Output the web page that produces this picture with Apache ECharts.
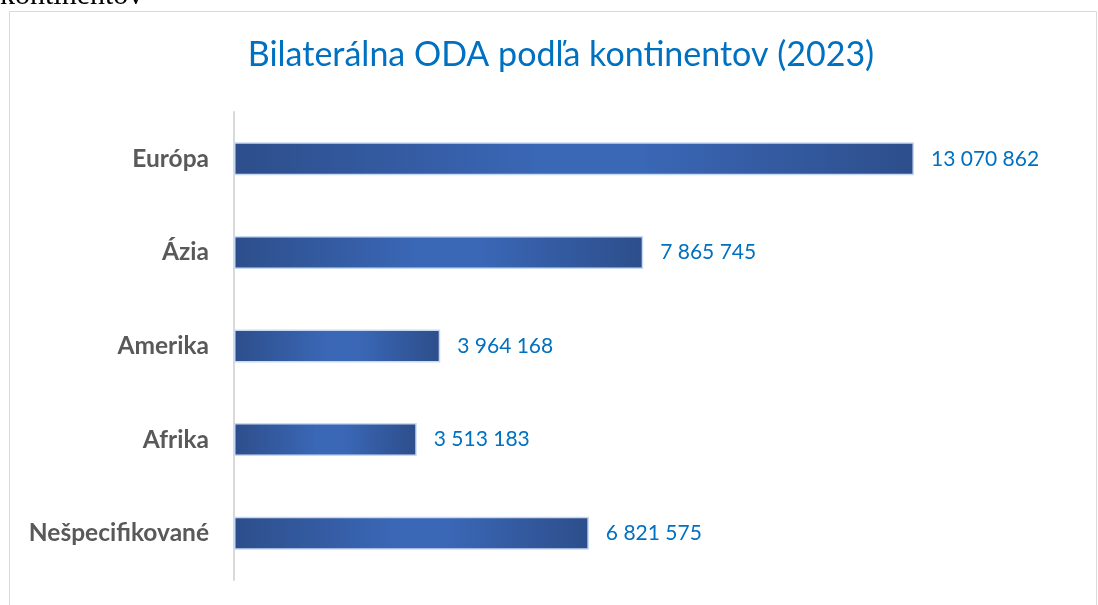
<!DOCTYPE html>
<html>
<head>
<meta charset="utf-8">
<script src="https://cdn.jsdelivr.net/npm/echarts@6/dist/echarts.min.js"></script>
<style>
html,body{margin:0;padding:0;background:#fff;}
#chart{width:1098px;height:605px;}
</style>
</head>
<body>
<div id="chart"></div>
<script>
const titleText = 'Bilaterálna ODA podľa kontinentov (2023)';
const categories = ['Európa', 'Ázia', 'Amerika', 'Afrika', 'Nešpecifikované'];
const values = [13070862, 7865745, 3964168, 3513183, 6821575];

function fmt(v){ return String(v).replace(/\B(?=(\d{3})+(?!\d))/g, ' '); }

const chart = echarts.init(document.getElementById('chart'), null, {renderer:'canvas'});
const grad = new echarts.graphic.LinearGradient(0,0,1,0,[
  {offset:0, color:'#2d4e8b'},
  {offset:0.45, color:'#3a67b6'},
  {offset:0.6, color:'#3a67b6'},
  {offset:1, color:'#2d4e8b'}
]);
chart.setOption({
  animation:false,
  backgroundColor:'#fff',
  graphic:[
    {type:'rect', shape:{x:9.5,y:11.5,width:1087,height:620}, style:{fill:'none', stroke:'#d9d9d9', lineWidth:1}, silent:true},
    {type:'text', left:0, top:-19, style:{text:'kontinentov', font:'30px "Liberation Serif"', fill:'#000'}},
    {type:'text', x:561, y:55, style:{text:titleText, font:'34px Lato', fill:'#0070c0', textAlign:'center', textVerticalAlign:'middle'}}
  ],
  grid:{left:234, top:112, width:728.3, height:468, containLabel:false},
  xAxis:{type:'value', min:0, max:14000000, show:false},
  yAxis:{
    type:'category', data:categories, inverse:true,
    axisLine:{show:true, lineStyle:{color:'#d9d9d9', width:2}},
    axisTick:{show:false},
    axisLabel:{margin:25, fontFamily:'Lato', fontSize:24.5, fontWeight:'bold', color:'#595959'}
  },
  series:[{
    type:'bar', data:values, barWidth:33,
    itemStyle:{color:grad, borderColor:'#c8daf1', borderWidth:1.5},
    label:{show:true, position:'right', distance:17, formatter:p=>fmt(p.value),
      fontFamily:'Lato', fontSize:21, color:'#0070c0'}
  }]
});
</script>
</body>
</html>
